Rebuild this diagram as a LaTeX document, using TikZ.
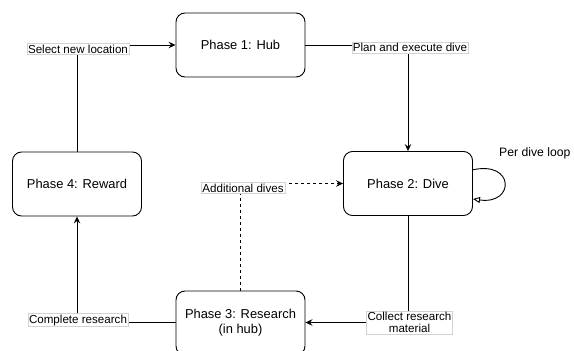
\documentclass[tikz,border=0pt]{standalone}
\usepackage{fontspec}
\setmainfont{Liberation Sans}
\usetikzlibrary{arrows.meta}
\begin{document}
\begin{tikzpicture}[x=1pt,y=-1pt,
  phasebox/.style={draw, line width=0.9pt, rounded corners=9pt, minimum width=129pt, minimum height=64pt, align=center, font=\fontsize{12.9}{15}\selectfont, inner sep=0pt},
  edgelabel/.style={fill=white, draw=gray!35, line width=0.4pt, inner sep=1.2pt, align=center, font=\fontsize{11.6}{13}\selectfont},
  conn/.style={line width=0.9pt, -{Stealth[length=7pt,width=6.5pt,inset=2.5pt]}},
  plain/.style={line width=0.9pt}
]
\useasboundingbox (0,0) rectangle (574,351);
\begin{scope}
\clip (0,0) rectangle (574,351);
\node[phasebox] (hub) at (240.5,45) {Phase 1: Hub};
\node[phasebox] (dive) at (408,183.5) {Phase 2: Dive};
\node[phasebox] (reward) at (77,184) {Phase 4: Reward};
\node[phasebox] (research) at (240.5,323) {Phase 3: Research\\(in hub)};

\coordinate (c1) at (408,45);
\coordinate (c2) at (408,322.5);
\coordinate (c3) at (77,322.5);
\coordinate (c4) at (77,45);
\coordinate (c5) at (240.5,183.5);

% Hub -> Dive
\draw[conn] (hub.east) -- (c1) -- (dive.north);
% Dive -> Research
\draw[conn] (dive.south) -- (c2) -- (research.east |- c2);
% Research -> Reward
\draw[conn] (research.west |- c3) -- (c3) -- (reward.south);
% Reward -> Hub
\draw[conn] (reward.north) -- (c4) -- (hub.west);
% Research -> Dive (dashed)
\draw[conn, dashed, dash pattern=on 3pt off 3pt] (research.north) -- (c5) -- (dive.west);
% self loop
\coordinate (l1) at (472,170);
\coordinate (l2) at (473,199);
\draw[line width=0.9pt, -{Triangle[open, length=7pt, width=6pt, fill=white]}] (l1) .. controls (515,160) and (515,205) .. (l2);

\node[edgelabel] (lab1) at (410,47.5) {Plan and execute dive};
\node[edgelabel] (lab2) at (409.5,322.5) {Collect research\\[-1.5pt]material};
\node[edgelabel] (lab3) at (78,320) {Complete research};
\node[edgelabel] (lab4) at (78,49) {Select new location};
\node[edgelabel] (lab5) at (243,188) {Additional dives};
\node[anchor=west, inner sep=0pt, font=\fontsize{12.2}{14}\selectfont] (lab6) at (499,153) {Per dive loop};
\end{scope}
\end{tikzpicture}
\end{document}
